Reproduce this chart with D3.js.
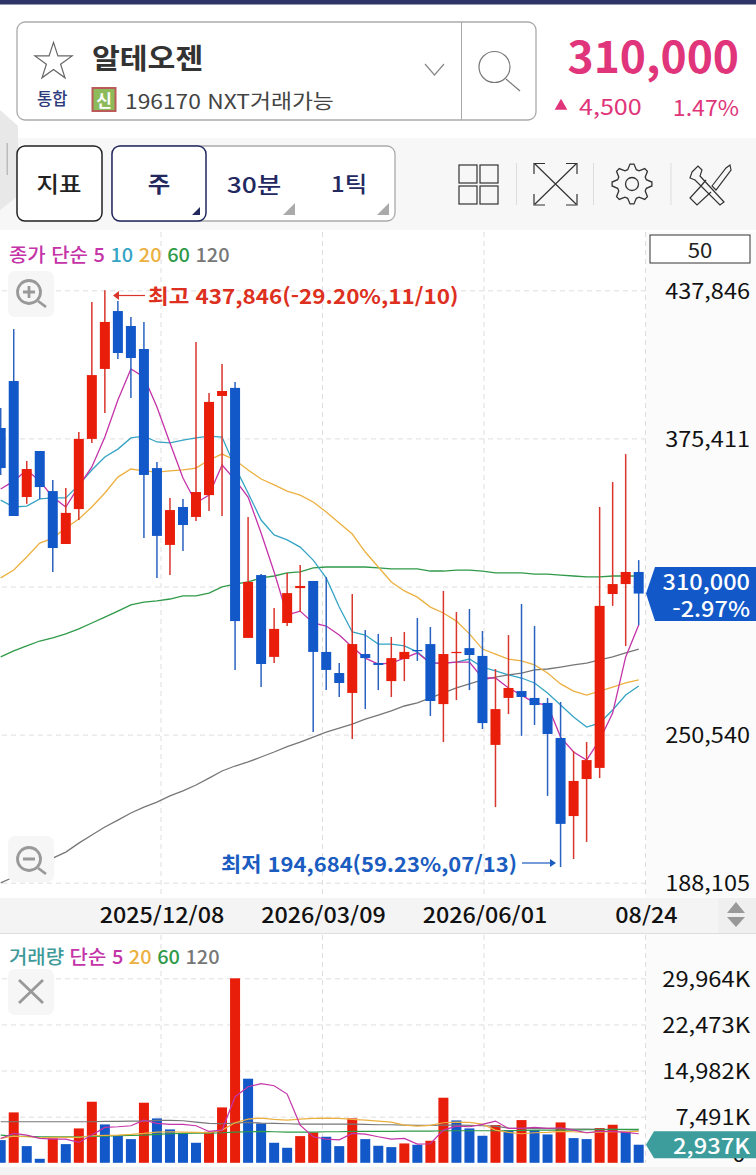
<!DOCTYPE html>
<html lang="ko">
<head>
<meta charset="UTF-8">
<title>알테오젠 주봉 차트</title>
<script src="https://d3js.org/d3.v7.min.js"></script>
<style>
    html, body { margin: 0; padding: 0; background: #fff; }
    svg { display: block; }
    text { font-family: "Noto Sans CJK KR", "Noto Sans", sans-serif; }
    .tick text { font-family: "Noto Sans CJK KR", "Noto Sans", sans-serif; }
</style>
</head>
<body>
<svg id="chart" width="756" height="1175" viewBox="0 0 756 1175"></svg>
<script>
// weekly candles
const opens = [379800,399600,350700,370100,353200,330900,345600,375200,404700,429100,422800,413100,362900,330500,346500,342300,351500,393300,396700,291300,317800,283300,297600,312300,315300,285400,276500,268100,284500,280700,273100,282400,286200,288700,263400,285000,287000,283700,246200,266000,268900,266000,263900,249100,216200,231800,236500,309800,314000,319100];
const highs = [388200,421500,365900,370100,357900,354500,378100,432900,437846,433300,426600,424500,365500,350300,349900,416000,394500,406800,399200,342300,318200,303900,318700,322000,315300,317000,280700,309800,294600,293000,291700,293800,299700,295900,311100,302200,303500,294200,278200,292500,305600,296300,266000,264300,243600,247400,346500,357000,368800,324100];
const lows = [360000,342700,347800,349900,319100,330900,341000,373500,386100,408900,392400,333400,316600,317800,327900,340600,344800,342700,277800,291300,270600,280700,296300,302200,251600,269300,266400,248700,261300,269300,266400,273100,281600,258400,247400,265100,269300,252900,220000,259200,250000,254600,224700,194684,198100,205300,232200,304800,287900,296700];
const closes = [362900,342700,362500,354900,329200,344000,375200,402100,424500,411400,409300,360000,334300,345200,338900,352800,390800,395400,298400,314900,280300,295100,310200,313200,285400,277800,272300,288700,282800,279900,282800,285400,285800,264700,284500,285400,284100,255400,261300,270200,266400,263000,250800,212900,231000,239800,304800,314000,319100,310000];

const priceMa5 = [354100,357400,362100,357400,350700,346500,355300,363400,376000,391600,404700,401300,388600,373500,358700,348200,351500,364200,357900,350700,335500,319100,301000,302600,297600,296300,292500,287500,282800,280300,280700,282800,285000,280700,280700,281100,281100,274400,274400,270200,267200,263900,263000,249500,243200,239800,248300,259600,283300,296700];
const priceMa10 = [349400,346500,346900,349900,350300,350300,355800,362100,367600,370900,375600,376400,373900,373500,374700,375600,376400,376000,363400,352400,341000,334700,332600,329600,324100,316600,304300,293800,292500,288700,288700,287900,285400,280700,280700,281100,282400,279000,277400,275700,274400,272300,268100,263000,258000,253700,255400,260900,267200,271000];
const priceMa20 = [316600,319900,325400,331300,333400,337600,341400,346500,352400,359100,362500,361700,361200,361700,362100,362900,366300,368800,366300,362100,358300,355800,353200,351500,348600,344400,339700,335100,327500,321200,314900,311100,308500,304300,301800,298400,293000,286600,284500,282400,281600,279900,276500,271900,268900,267200,268900,270600,272300,273600];
const priceMa60 = [283300,285800,287900,290000,291300,293000,295100,297600,300100,302600,305200,306400,306900,307700,309000,309000,310200,312800,314000,314900,316600,317400,318700,319100,320800,321200,321200,321200,321200,320800,320400,320400,320400,319500,319500,319900,319900,319500,318700,318700,318700,318200,318200,317800,317400,317000,317000,317400,317400,317400];
const priceMa120 = [188000,190500,192600,195600,198500,201000,204800,208200,211600,214500,217500,220000,222100,224700,226800,229300,232200,235200,237300,239000,241100,243200,245500,247400,249500,251600,253300,255000,257100,258800,260500,262600,263900,266000,268100,270200,271900,273600,274800,275700,276500,277800,278200,279000,279900,280700,282000,283300,285000,286600];

// volume in K shares
const volumes = [3685,8184,2710,650,3957,3035,5583,9919,6233,4444,3848,9756,7209,5420,4770,3252,5041,8997,29964,13658,6396,3252,2439,4336,4932,4228,2710,7209,3848,2764,2547,3144,2927,3577,10569,6883,5583,4390,6125,5312,6938,5312,4607,6558,4011,3848,5637,6179,5041,2937];
const volumeUp = [0,1,0,0,1,0,1,1,0,0,0,1,0,0,0,0,1,1,1,0,0,0,0,1,1,0,0,1,0,0,0,1,0,1,1,0,0,0,1,0,1,0,0,1,0,0,1,1,0,0];
const volMa5 = [3957,4770,4499,3957,3848,3848,3306,4499,5745,5854,6016,6938,6396,6233,6233,6016,5095,5312,10732,12358,12845,12520,11165,6125,4228,3848,3740,4770,4661,4228,3848,3957,3035,3089,5312,5962,5854,6233,6775,5583,5583,5745,5583,5691,5312,4878,5095,5095,4932,4715];
const volMa20 = [3957,4336,4228,4065,4119,4119,4119,4390,4444,4499,4607,4770,4986,5041,4986,4932,4878,5312,6504,7100,7263,7046,6938,7100,7209,7263,7209,7046,6938,6775,6612,6125,5962,6070,6504,6612,6558,6287,5312,4932,4715,4878,4932,5095,5041,4878,4986,5041,5041,5095];
const volMa60 = [4499,4336,4282,4228,4228,4228,4228,4282,4336,4390,4444,4499,4607,4715,4770,4824,4824,4878,4986,5041,5095,5041,4986,4986,4986,5041,5041,5095,5095,5095,5095,5149,5149,5149,5203,5203,5203,5203,5203,5203,5257,5312,5312,5312,5312,5366,5366,5420,5420,5420];
const volMa120 = [6667,6667,6667,6667,6667,6667,6667,6667,6721,6721,6775,6775,6883,6883,6829,6612,6396,6341,6450,6558,6450,6396,6341,6287,6287,6287,6287,6287,6233,6179,6179,6125,6070,6070,6125,6125,6070,6016,5962,5637,5583,5583,5583,5528,5474,5474,5420,5420,5366,5312];

const priceGridTicks = [437846,375411,312975,250540,188105];
const priceTicks = [437846,375411,250540,188105]; // 312,975 sits under the badge, not shown
const volumeTicks = [29964,22473,14982,7491,0];
const dateLabels = ["2025/12/08","2026/03/09","2026/06/01","08/24"];
const dateSlots = [1,2,3,4];

const RED = "#e81e0a", BLUE = "#1358c8", WICK_RED = "#d8352b", WICK_BLUE = "#2a62c0";
const C5 = "#c433a8", C10 = "#35a4c4", C20 = "#ecb040", C60 = "#2f9a48", C120 = "#777";
const plotW = 646;
const SX = 1.11; // the screenshot's glyphs are a bit wider than the font

const svg = d3.select("#chart");
const defs = svg.append("defs");
defs.append("clipPath").attr("id", "plotClip").append("rect")
    .attr("x", 0).attr("y", 232).attr("width", plotW).attr("height", 940);

// scales
const x = d3.scaleLinear().domain([0, opens.length - 1]).range([0.7, 638.7]);
const yP = d3.scaleLinear().domain([188105, 437846]).range([882.7, 290.3]);
const yV = d3.scaleLinear().domain([0, 29964]).range([1162.8, 978.3]);
const xSlot = d3.scaleLinear().domain([0, 4]).range([0, plotW]);

function box(g, x0, y0, w, h, fill, stroke, rx) {
    return g.append("rect").attr("x", x0).attr("y", y0).attr("width", w).attr("height", h)
        .attr("rx", rx || 0).attr("fill", fill).attr("stroke", stroke || "none");
}
function label(g, tx, ty, txt, size, fill, anchor, weight, sx) {
    return g.append("text").attr("transform", `translate(${tx},${ty}) scale(${sx || SX},1)`).text(txt)
        .attr("font-size", size).attr("fill", fill)
        .attr("text-anchor", anchor || "start").attr("font-weight", weight || 400)
        .attr("dominant-baseline", "central");
}

// ---------- header ----------
const head = svg.append("g");
box(head, 0, 0, 756, 4.5, "#2e3566");
box(head, 17, 22, 519, 98, "#fff", "#aaa", 8).attr("stroke-width", 1.3);
head.append("line").attr("x1", 461.5).attr("x2", 461.5).attr("y1", 22).attr("y2", 120).attr("stroke", "#aaa");
head.append("path").attr("d", d3.symbol(d3.symbolStar, 430)()).attr("transform", "translate(53.5,62)")
    .attr("fill", "none").attr("stroke", "#666").attr("stroke-width", 1.2);
label(head, 92, 57, "알테오젠", 28, "#333", "start", 700, 1.08);
head.append("path").attr("d", "M425,64L434.5,75L444,64").attr("fill", "none").attr("stroke", "#888").attr("stroke-width", 1.2);
head.append("circle").attr("cx", 494.5).attr("cy", 67).attr("r", 15.5).attr("fill", "none").attr("stroke", "#777").attr("stroke-width", 1.2);
head.append("line").attr("x1", 506).attr("y1", 79).attr("x2", 520).attr("y2", 91).attr("stroke", "#777").attr("stroke-width", 1.2);
label(head, 37, 98, "통합", 16.5, "#2d3a7c", "start", 500, 1);
box(head, 92.5, 88, 23, 23, "#8dbb5a", "#bb5a5a").attr("stroke-width", 2);
label(head, 104, 99, "신", 17, "#fff", "middle", 700, 1);
label(head, 125, 100, "196170 NXT거래가능", 20, "#444", "start", 400, 1.14);
label(head, 739, 54, "310,000", 43.5, "#e0357a", "end", 700, 1.02);
head.append("path").attr("d", d3.symbol(d3.symbolTriangle, 70)()).attr("transform", "translate(561,106)").attr("fill", "#e0357a");
label(head, 579, 106, "4,500", 22, "#e0357a", "start", 400, 1.14);
label(head, 739, 106, "1.47%", 22, "#e0357a", "end", 400, 1.05);

// ---------- toolbar ----------
const bar = svg.append("g");
box(bar, 0, 138, 756, 92, "#f7f7f7");
bar.append("path").attr("d", "M0,110L18,126V196L0,210Z").attr("fill", "#e8e8e8");
box(bar, 6.5, 143, 1.5, 32, "#bbb");
box(bar, 17, 146, 85, 75, "#fff", "#222", 8).attr("stroke-width", 1.5);
label(bar, 59, 183, "지표", 22, "#222", "middle", 500);
box(bar, 112, 146, 283, 75, "#fff", "#aaa", 8).attr("stroke-width", 1.3);
box(bar, 112, 146, 94, 75, "#fff", "#23295f", 8).attr("stroke-width", 1.5);
label(bar, 159, 183, "주", 22, "#23295f", "middle", 700);
label(bar, 254, 183, "30분", 22, "#23295f", "middle", 500, 1.2);
label(bar, 349, 183, "1틱", 22, "#23295f", "middle", 500);
bar.append("path").attr("d", "M192,215L200,215L200,207Z").attr("fill", "#23295f");
bar.append("path").attr("d", "M283,215L295,215L295,203Z").attr("fill", "#aaa");
bar.append("path").attr("d", "M377,215L389,215L389,203Z").attr("fill", "#aaa");
// grid icon
[[459, 165], [480, 165], [459, 186], [480, 186]].forEach(p => box(bar, p[0], p[1], 18, 18, "none", "#333").attr("stroke-width", 1.2));
[516.5, 593.5, 671].forEach(sx => bar.append("line").attr("x1", sx).attr("x2", sx).attr("y1", 163).attr("y2", 205).attr("stroke", "#ddd"));
// expand icon
bar.append("path").attr("d", "M534,174V163.5H545M566,163.5H577V174M534,194V205H545M566,205H577V194M535,164L576,204M576,164L535,204")
    .attr("fill", "none").attr("stroke", "#333").attr("stroke-width", 1.2);
// gear icon
const gear = bar.append("g").attr("transform", "translate(632,184)").attr("fill", "none").attr("stroke", "#333").attr("stroke-width", 1.3);
gear.append("circle").attr("r", 6.5);
gear.append("path").attr("d", d3.lineRadial().curve(d3.curveLinearClosed)(
    d3.range(32).map(i => [(i - 0.5) * Math.PI / 16, i % 4 < 2 ? 20 : 15])));
// tools icon
bar.append("path").attr("d", "M692,172L698,166L702,170L700,176L724,202L720,205L695,180L690,178ZM712,186L726,168L730,165L731,170L716,190ZM706,180L701,186L690,198L697,205L711,192")
    .attr("fill", "none").attr("stroke", "#333").attr("stroke-width", 1.2);

// ---------- right axis backgrounds ----------
box(svg, plotW, 232, 110, 940, "#fbfbfb");

// ---------- grids ----------
const priceGrid = d3.axisLeft(yP).tickValues(priceGridTicks).tickSize(plotW).tickFormat("");
const volGrid = d3.axisLeft(yV).tickValues(volumeTicks.slice(0, 4)).tickSize(plotW).tickFormat("");
function styleGrid(sel) {
    sel.select(".domain").remove();
    sel.selectAll("line").attr("stroke", "#dedede").attr("stroke-dasharray", "5,4");
}
svg.append("g").attr("transform", `translate(${plotW},0)`).call(priceGrid).call(styleGrid);
svg.append("g").attr("transform", `translate(${plotW},0)`).call(volGrid).call(styleGrid);
const vGrid = svg.append("g");
dateSlots.forEach(s => {
    vGrid.append("line").attr("x1", xSlot(s) - 0.5).attr("x2", xSlot(s) - 0.5).attr("y1", 232).attr("y2", 897)
        .attr("stroke", "#dedede").attr("stroke-dasharray", "5,4");
    vGrid.append("line").attr("x1", xSlot(s) - 0.5).attr("x2", xSlot(s) - 0.5).attr("y1", 935).attr("y2", 1163)
        .attr("stroke", "#dedede").attr("stroke-dasharray", "5,4");
});

// ---------- price pane ----------
const pricePane = svg.append("g").attr("clip-path", "url(#plotClip)");
const priceLine = d3.line().x((d, i) => x(i)).y(d => yP(d));
[[priceMa120, C120], [priceMa60, C60], [priceMa20, C20], [priceMa10, C10], [priceMa5, C5]].forEach(s => {
    pricePane.append("path").attr("d", priceLine(s[0])).attr("fill", "none").attr("stroke", s[1]).attr("stroke-width", 1.3);
});
const candles = pricePane.selectAll("g.candle").data(d3.range(opens.length)).join("g").attr("class", "candle");
const isUp = i => closes[i] >= opens[i];
candles.append("line")
    .attr("x1", i => x(i)).attr("x2", i => x(i))
    .attr("y1", i => yP(highs[i])).attr("y2", i => yP(lows[i]))
    .attr("stroke", i => isUp(i) ? WICK_RED : WICK_BLUE).attr("stroke-width", 1.5);
candles.append("rect")
    .attr("x", i => x(i) - 5).attr("width", 10)
    .attr("y", i => yP(Math.max(opens[i], closes[i])))
    .attr("height", i => Math.max(1.2, Math.abs(yP(opens[i]) - yP(closes[i]))))
    .attr("fill", i => isUp(i) ? RED : BLUE);

// ---------- price axis ----------
const priceAxis = d3.axisLeft(yP).tickValues(priceTicks).tickSize(0).tickPadding(0).tickFormat(d3.format(","));
const pa = svg.append("g").attr("transform", "translate(750,1)").call(priceAxis);
pa.select(".domain").remove();
pa.selectAll("text").attr("font-size", 21).attr("fill", "#111").attr("transform", "scale(1.12,1)");

// current price badge
const yNow = yP(closes[closes.length - 1]);
svg.append("path").attr("d", `M646,${yNow}L655,${yNow - 26.5}H756V${yNow + 27.5}H655Z`).attr("fill", BLUE);
label(svg, 750, yNow - 13, "310,000", 21, "#fff", "end", 500, 1.12);
label(svg, 750, yNow + 14, "-2.97%", 21, "#fff", "end", 500, 1.12);

// legend, period box
function legendText(ly, parts) {
    const t = svg.append("text").attr("transform", `translate(9,${ly}) scale(1.05,1)`)
        .attr("font-size", 19).attr("font-weight", 500).attr("dominant-baseline", "central");
    parts.forEach(p => t.append("tspan").attr("fill", p[1]).text(p[0]));
}
legendText(253, [["종가 단순 5 ", C5], ["10 ", C10], ["20 ", C20], ["60 ", C60], ["120", C120]]);
box(svg, 650, 235, 100, 28, "#fff", "#333");
label(svg, 700, 249, "50", 20, "#222", "middle");

// zoom buttons
function toolButton(y0) { box(svg, 8, y0, 46, 46, "#f6f6f6", null, 7); }
toolButton(271);
toolButton(836);
toolButton(969);
const ico = svg.append("g").attr("fill", "none").attr("stroke", "#999").attr("stroke-width", 2.8);
ico.append("circle").attr("cx", 29).attr("cy", 292).attr("r", 11.5);
ico.append("path").attr("d", "M23,292H35M29,286V298M38,301L46,307");
ico.append("circle").attr("cx", 29).attr("cy", 859).attr("r", 11.5);
ico.append("path").attr("d", "M23,859H35M38,868L46,874");
ico.append("path").attr("d", "M19,980L43,1003M43,980L19,1003");

// hi/lo notes
const noteHi = svg.append("g");
noteHi.append("path").attr("d", "M113,295.5L119,291V300Z").attr("fill", "#d8352b");
noteHi.append("line").attr("x1", 117).attr("x2", 145).attr("y1", 295.5).attr("y2", 295.5).attr("stroke", "#d8352b").attr("stroke-width", 1.2);
label(noteHi, 148, 295, "최고 437,846(-29.20%,11/10)", 20.5, "#dd3020", "start", 600, 1.095);
const noteLo = svg.append("g");
label(noteLo, 221, 863, "최저 194,684(59.23%,07/13)", 20.5, "#1a5cc0", "start", 600, 1.073);
noteLo.append("line").attr("x1", 522).attr("x2", 552).attr("y1", 863).attr("y2", 863).attr("stroke", "#1a5cc0").attr("stroke-width", 1.2);
noteLo.append("path").attr("d", "M556,863L550,859V867Z").attr("fill", "#1a5cc0");

// ---------- date strip ----------
box(svg, 0, 898, 756, 35, "#f4f4f4");
const dateAxis = d3.axisBottom(xSlot).tickValues(dateSlots).tickSize(0).tickPadding(0).tickFormat((d, i) => dateLabels[i]);
const da = svg.append("g").attr("transform", "translate(0,908)").call(dateAxis);
da.select(".domain").remove();
da.selectAll("text").attr("font-size", 21).attr("fill", "#111").attr("font-weight", 500).attr("transform", "scale(1.11,1)");
da.selectAll(".tick").filter((d, i) => i === 3).select("text").attr("text-anchor", "end").attr("dx", 28);
box(svg, 718, 898, 38, 35, "#efefef");
svg.append("path").attr("d", "M736,902L745,913H727ZM736,927L745,917H727Z").attr("fill", "#999");
svg.append("line").attr("x1", 0).attr("x2", 756).attr("y1", 933.5).attr("y2", 933.5).attr("stroke", "#ddd");

// ---------- volume pane ----------
const volPane = svg.append("g").attr("clip-path", "url(#plotClip)");
volPane.selectAll("rect").data(volumes).join("rect")
    .attr("x", (d, i) => x(i) - 5).attr("width", 10)
    .attr("y", d => yV(d)).attr("height", d => yV(0) - yV(d))
    .attr("fill", (d, i) => volumeUp[i] ? RED : BLUE);
const volLine = d3.line().x((d, i) => x(i)).y(d => yV(d));
[[volMa120, C120], [volMa60, C60], [volMa20, C20], [volMa5, C5]].forEach(s => {
    volPane.append("path").attr("d", volLine(s[0])).attr("fill", "none").attr("stroke", s[1]).attr("stroke-width", 1.2);
});

const volAxis = d3.axisLeft(yV).tickValues(volumeTicks).tickSize(0).tickPadding(0)
    .tickFormat(d => d === 0 ? "0" : d3.format(",")(d) + "K");
const va = svg.append("g").attr("transform", "translate(750,1)").call(volAxis);
va.select(".domain").remove();
va.selectAll("text").attr("font-size", 21).attr("fill", "#111").attr("transform", "scale(1.13,1)");
// the 0 label is nudged up in the app, only its foot shows under the badge
va.selectAll(".tick").filter(d => d === 0).select("text").attr("y", -9).attr("x", -4);

const yVol = yV(volumes[volumes.length - 1]);
svg.append("path").attr("d", `M646,${yVol}L654,${yVol - 13.5}H756V${yVol + 13.5}H654Z`).attr("fill", "#3d9c9c");
label(svg, 750, yVol, "2,937K", 21, "#fff", "end", 500, 1.13);

legendText(955, [["거래량 ", "#3f9a9a"], ["단순 5 ", C5], ["20 ", C20], ["60 ", C60], ["120", C120]]);

// bottom band
box(svg, 0, 1167, 756, 8, "#f3f3f3");
</script>
</body>
</html>
